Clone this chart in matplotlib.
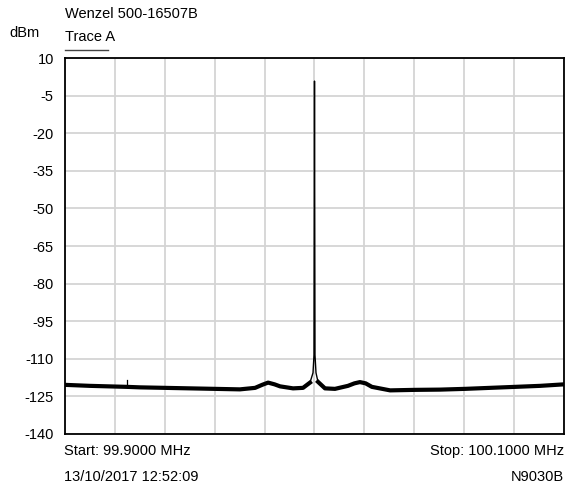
import matplotlib.pyplot as plt
import numpy as np

plt.rcParams['font.family'] = ['Liberation Sans', 'DejaVu Sans']

# trace (MHz, dBm)
freq = [99.9000, 99.9100, 99.9248, 99.9301, 99.9401, 99.9501,
        99.9601, 99.9701, 99.9762, 99.9790, 99.9814, 99.9840, 99.9862, 99.9914,
        99.9954, 99.9982, 99.9994, 99.9998, 100.0000, 100.0002, 100.0006,
        100.0014, 100.0042, 100.0082, 100.0134, 100.0160, 100.0182, 100.0205,
        100.0230, 100.0303, 100.0403, 100.0503, 100.0603, 100.0703, 100.0804,
        100.0904, 100.1000]
level = [-120.4, -120.8, -121.2, -121.4, -121.6, -121.8,
         -122.0, -122.2, -121.6, -120.4, -119.5, -120.2, -121.0, -121.8,
         -121.6, -119.5, -115.6, -108.5, 0.8, -108.5, -115.6,
         -119.2, -121.8, -122.0, -120.8, -119.8, -119.3, -119.8,
         -121.2, -122.6, -122.4, -122.3, -122.0, -121.6, -121.2,
         -120.8, -120.2]

# small spur on the left of the floor
spur_freq = [99.9248, 99.9248]
spur_level = [-121.2, -118.6]

yticks = [10, -5, -20, -35, -50, -65, -80, -95, -110, -125, -140]

fig = plt.figure(figsize=(5.66, 4.88), dpi=100)
ax = fig.add_axes([0.1148, 0.1107, 0.8817, 0.7704])

ax.plot(freq, level, color='black', lw=1.0)
floor = np.array(level, dtype=float)
floor[floor > -117] = np.nan
ax.plot(freq, floor, color='black', lw=3.0, solid_joinstyle='round')
ax.plot(spur_freq, spur_level, color='black', lw=0.9)

ax.set_xlim(99.9, 100.1)
ax.set_ylim(-140, 10)
ax.set_xticks(np.linspace(99.9, 100.1, 11))
ax.set_xticklabels([])
ax.set_yticks(yticks)
ax.set_yticklabels([str(t) for t in yticks], fontsize=10.5)
ax.tick_params(length=0, pad=8)
ax.grid(True, color='#d4d4d4', lw=1.3)
ax.set_axisbelow(True)
for s in ax.spines.values():
    s.set_linewidth(1.3)
    s.set_color('black')

fs = 10.5
fig.text(65 / 566, 1 - 14 / 488, 'Wenzel 500-16507B', fontsize=fs, va='center')
fig.text(9 / 566, 1 - 33 / 488, 'dBm', fontsize=fs, va='center')
fig.text(65 / 566, 1 - 37 / 488, 'Trace A', fontsize=fs, va='center')
fig.add_artist(plt.Line2D([65 / 566, 108 / 566], [1 - 50 / 488, 1 - 50 / 488],
                          color='#444444', lw=1.0))
fig.text(64 / 566, 1 - 451 / 488, 'Start: 99.9000 MHz', fontsize=fs, va='center')
fig.text(64 / 566, 1 - 477 / 488, '13/10/2017 12:52:09', fontsize=fs, va='center')
fig.text(564 / 566, 1 - 451 / 488, 'Stop: 100.1000 MHz', fontsize=fs,
         va='center', ha='right')
fig.text(564 / 566, 1 - 477 / 488, 'N9030B', fontsize=fs, va='center', ha='right')

fig.savefig('out.png', dpi=100)
